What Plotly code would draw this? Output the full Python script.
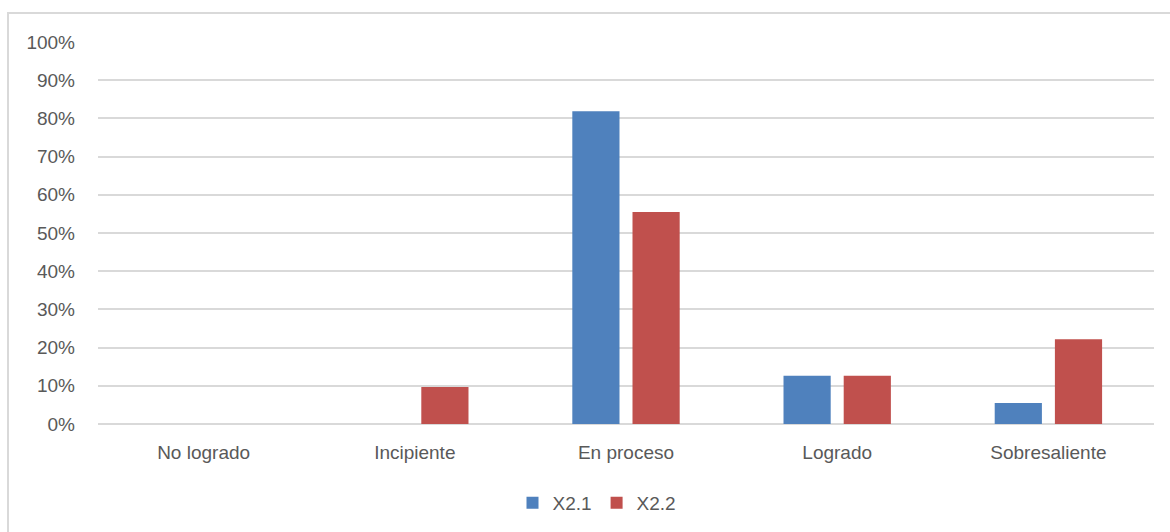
import plotly.graph_objects as go

categories = ["No logrado", "Incipiente", "En proceso", "Logrado", "Sobresaliente"]
x21 = [0.0, 0.0, 0.819, 0.126, 0.055]
x22 = [0.0, 0.097, 0.555, 0.126, 0.222]
series_names = ["X2.1", "X2.2"]
colors = ["#4F81BD", "#C0504D"]

W, H = 1170, 532
ml, mr, mt, mb = 98, 16, 42, 108
pw = W - ml - mr
ph = H - mt - mb

font = dict(family="Liberation Sans, Arial, sans-serif", size=19, color="#595959")

fig = go.Figure()
for name, vals, col in zip(series_names, [x21, x22], colors):
    fig.add_trace(go.Bar(x=categories, y=vals, name=name, marker=dict(color=col, line=dict(width=0))))

fig.update_layout(
    width=W, height=H,
    margin=dict(l=ml, r=mr, t=mt, b=mb, pad=0, autoexpand=False),
    paper_bgcolor="white", plot_bgcolor="white",
    font=font,
    barmode="group", bargap=0.43, bargroupgap=0.216,
    showlegend=True,
    legend=dict(orientation="h", x=(597 - ml) / pw, xanchor="center",
                y=-(503 - mt - ph) / ph, yanchor="middle",
                font=font, itemwidth=30, traceorder="normal"),
    xaxis=dict(showgrid=False, showline=False, ticks="", tickfont=font,
               ticklabelstandoff=15, automargin=False),
    yaxis=dict(range=[0, 1], dtick=0.1, tickformat=".0%", showgrid=True,
               gridcolor="#d9d9d9", gridwidth=2, zeroline=True,
               zerolinecolor="#d9d9d9", zerolinewidth=2, showline=False,
               ticks="", tickfont=font, ticklabelstandoff=22, automargin=False),
    shapes=[dict(type="rect", xref="paper", yref="paper",
                 x0=(8 - ml) / pw, x1=(W + 20 - ml) / pw,
                 y0=-(H + 20 - mt - ph) / ph, y1=(mt + ph - 13) / ph,
                 line=dict(color="#d9d9d9", width=2), layer="below")],
)

fig.write_html("out.html")
